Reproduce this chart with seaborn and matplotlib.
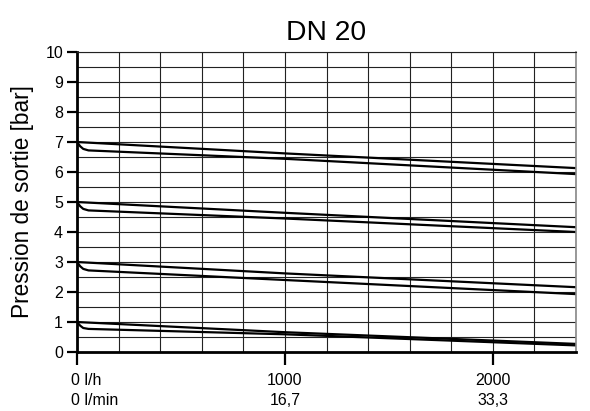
import numpy as np
import pandas as pd
import matplotlib
matplotlib.use("Agg")
import matplotlib.pyplot as plt
import matplotlib.transforms as mtransforms
import seaborn as sns

# ---- data ----
x_upper = [0, 1000, 2400]
up_7 = [7.0, 6.62, 6.13]
up_5 = [5.0, 4.64, 4.16]
up_3 = [3.0, 2.62, 2.16]
up_1 = [1.0, 0.66, 0.27]

x_lower = [0, 15, 30, 55, 1000, 2400]
lo_7 = [7.0, 6.86, 6.77, 6.72, 6.44, 5.93]
lo_5 = [5.0, 4.86, 4.77, 4.72, 4.45, 4.00]
lo_3 = [3.0, 2.86, 2.77, 2.72, 2.40, 1.93]
lo_1 = [1.0, 0.88, 0.80, 0.77, 0.59, 0.22]

x_ticks = [0, 1000, 2000]
x_tick_labels = ["0 l/h\n0 l/min", "1000\n16,7", "2000\n33,3"]
y_ticks = list(range(0, 11))
title = "DN 20"
ylabel = "Pression de sortie [bar]"

rows = []
for name, ys in [("u7", up_7), ("u5", up_5), ("u3", up_3), ("u1", up_1)]:
    for x, y in zip(x_upper, ys):
        rows.append({"curve": name, "flow": x, "p": y})
for name, ys in [("l7", lo_7), ("l5", lo_5), ("l3", lo_3), ("l1", lo_1)]:
    for x, y in zip(x_lower, ys):
        rows.append({"curve": name, "flow": x, "p": y})
df = pd.DataFrame(rows)

sns.set_theme(style="white")
plt.rcParams['font.family'] = ['Liberation Sans', 'DejaVu Sans']
plt.rcParams['text.color'] = 'black'
plt.rcParams['axes.labelcolor'] = 'black'
plt.rcParams['xtick.color'] = 'black'
plt.rcParams['ytick.color'] = 'black'

fig = plt.figure(figsize=(5.9, 4.11), dpi=100)
ax = fig.add_axes([77/590, 59/411, (576-77)/590, (352-52)/411])

sns.lineplot(data=df, x="flow", y="p", units="curve", estimator=None,
             color="black", linewidth=1.6, ax=ax, sort=False, legend=False)

ax.set_xlim(0, 2400)
ax.set_ylim(0, 10)
ax.set_xticks(x_ticks)
ax.set_xticklabels(x_tick_labels, fontsize=11.5, linespacing=1.4)
ax.set_xticks(np.arange(0, 2401, 200), minor=True)
ax.set_yticks(y_ticks)
ax.set_yticklabels([str(v) for v in y_ticks], fontsize=11.5)
ax.set_yticks(np.arange(0, 10.01, 0.5), minor=True)

ax.grid(True, which="both", color="#222222", linewidth=0.8)
ax.set_axisbelow(True)
ax.tick_params(axis="both", which="minor", length=0)
ax.tick_params(axis="y", which="major", direction="out", length=7, width=1.6,
               color="black", pad=3, left=True)
ax.tick_params(axis="x", which="major", direction="out", length=9, width=1.6,
               color="black", pad=6, bottom=True)

for s in ["left", "bottom"]:
    ax.spines[s].set_color("black")
    ax.spines[s].set_linewidth(2.0)
ax.spines["top"].set_color("#222222")
ax.spines["top"].set_linewidth(0.8)
ax.spines["right"].set_color("#888888")
ax.spines["right"].set_linewidth(1.2)

# first tick label starts at the axis
lbls = ax.get_xticklabels()
lbls[0].set_horizontalalignment("left")
lbls[0].set_transform(lbls[0].get_transform() +
                      mtransforms.ScaledTranslation(-6/100, 0, fig.dpi_scale_trans))

ax.set_xlabel("")
ax.set_ylabel(ylabel, fontsize=16.3, labelpad=8)
ax.set_title(title, fontsize=20.3, pad=9)

fig.savefig("out.png", dpi=100, facecolor="white")
